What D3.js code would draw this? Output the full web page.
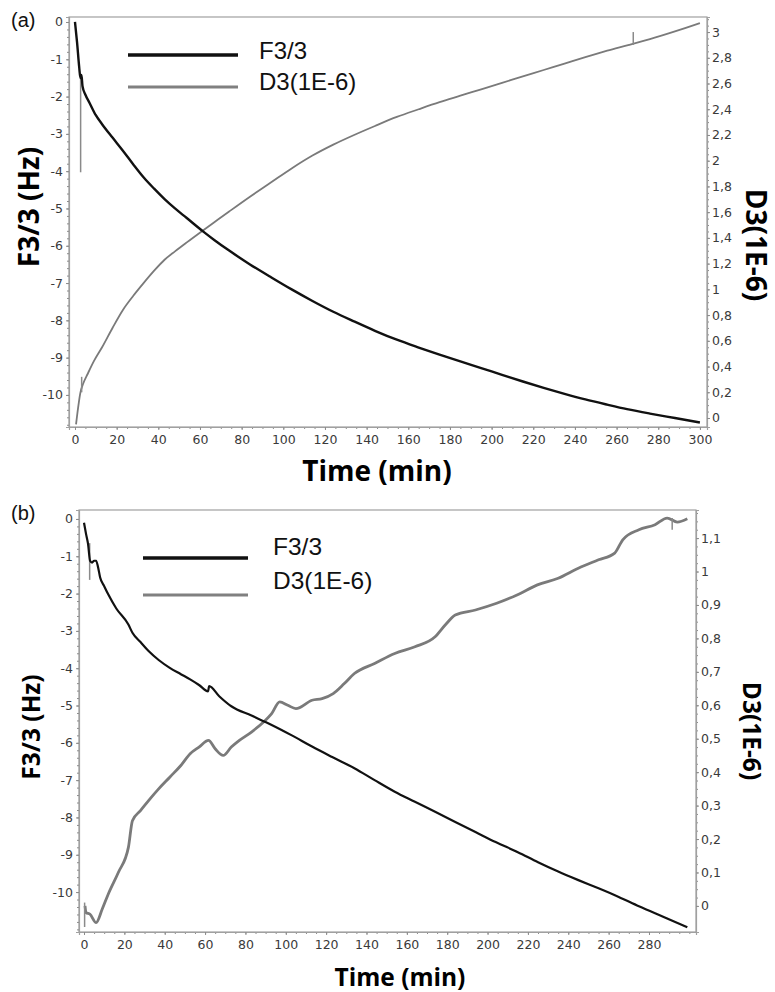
<!DOCTYPE html>
<html lang="en">
<head>
<meta charset="utf-8">
<script src="https://cdnjs.cloudflare.com/ajax/libs/d3/7.8.5/d3.min.js"></script>
<style>
  body { margin: 0; background: #fff; }
  svg { display: block; }
</style>
</head>
<body>
<script>
// ---- data: [time (min), value] ----
var f3A = [[0,0],[1,-0.55],[2,-1.2],[2.6,-1.5],[3.1,-1.42],[3.6,-1.72],[5,-1.95],[7,-2.17],[10,-2.5],[13,-2.74],[18,-3.1],[23,-3.45],[28,-3.82],[33,-4.17],[38,-4.47],[43,-4.75],[48,-5.0],[53.5,-5.25],[61.6,-5.62],[67,-5.85],[74,-6.13],[84,-6.5],[94,-6.84],[104,-7.17],[114,-7.48],[124,-7.77],[134,-8.03],[144,-8.28],[154.5,-8.52],[165,-8.73],[175,-8.92],[185,-9.1],[195,-9.28],[205,-9.46],[215,-9.64],[225,-9.81],[235,-9.97],[245,-10.12],[255.5,-10.26],[265,-10.38],[276,-10.5],[288,-10.62],[300,-10.74]];
var d3A = [[0.5,-0.05],[1.5,0.08],[2.5,0.19],[4,0.27],[6,0.34],[9,0.44],[13,0.55],[18,0.7],[23,0.84],[28,0.95],[33,1.05],[38,1.145],[43,1.23],[48,1.295],[53.5,1.363],[61.6,1.46],[68,1.535],[74,1.605],[84,1.72],[94,1.83],[104,1.94],[114,2.04],[124,2.125],[134,2.2],[144,2.27],[154.5,2.34],[165,2.4],[175,2.455],[185,2.505],[195,2.555],[205,2.605],[215,2.655],[225,2.705],[235,2.755],[245,2.805],[255.5,2.855],[266,2.9],[276,2.945],[288,3.005],[300,3.07]];
var d3SpikesA = [[[2.7,2.64],[2.7,1.91]], [[3.2,0.2],[3.2,0.32]], [[268,2.9],[268,3.0]]];

var f3B = [[0,-0.1],[1,-0.4],[2,-0.67],[3,-1.12],[4,-1.17],[5,-1.12],[6,-1.12],[7,-1.3],[8,-1.57],[10,-1.8],[12,-2.02],[16,-2.4],[22,-2.83],[24,-3.05],[28,-3.3],[32,-3.54],[37,-3.78],[42.5,-3.99],[48,-4.16],[52.6,-4.3],[57,-4.45],[61.5,-4.62],[62,-4.48],[67,-4.75],[73,-5.02],[83,-5.27],[93,-5.52],[103,-5.8],[113,-6.1],[123,-6.38],[134,-6.68],[144,-7.0],[154,-7.31],[164,-7.58],[174,-7.85],[184,-8.12],[194,-8.39],[204,-8.66],[215,-8.93],[225,-9.2],[235,-9.45],[245,-9.68],[255,-9.9],[265,-10.13],[275,-10.38],[287,-10.66],[299,-10.94]];
var d3B = [[0.5,0.0],[1,-0.02],[3,-0.025],[6,-0.05],[9,-0.01],[12,0.035],[17,0.1],[22,0.175],[24,0.255],[28,0.285],[32,0.315],[37,0.35],[42.5,0.385],[48,0.42],[52.6,0.455],[57,0.475],[61.7,0.495],[65,0.47],[69,0.45],[73,0.475],[77,0.495],[83,0.52],[89,0.55],[93,0.575],[97,0.61],[101,0.6],[105,0.59],[113,0.615],[118,0.62],[123.5,0.635],[129,0.665],[134,0.695],[144,0.725],[154,0.755],[164,0.775],[174,0.805],[179,0.84],[184,0.87],[194,0.885],[204.5,0.905],[214.6,0.93],[224.7,0.96],[235,0.98],[245,1.01],[255,1.035],[263,1.055],[267,1.095],[275,1.125],[283,1.14],[289,1.16],[294,1.148],[299,1.158]];
var d3SpikesB = [[[2.8,1.085],[2.8,0.975]], [[0.3,0.01],[0.3,-0.063]], [[291.5,1.16],[291.5,1.125]]];

var timeTicksA = [0,20,40,60,80,100,120,140,160,180,200,220,240,260,280,300];
var timeTicksB = [0,20,40,60,80,100,120,140,160,180,200,220,240,260,280];
var f3Ticks = [0,-1,-2,-3,-4,-5,-6,-7,-8,-9,-10];
var d3TicksA = [0,0.2,0.4,0.6,0.8,1,1.2,1.4,1.6,1.8,2,2.2,2.4,2.6,2.8,3];
var d3TicksB = [0,0.1,0.2,0.3,0.4,0.5,0.6,0.7,0.8,0.9,1,1.1];
var seriesNames = ["F3/3", "D3(1E-6)"];
var xTitle = "Time (min)", yTitle = "F3/3 (Hz)", y2Title = "D3(1E-6)";

var W = 775, H = 992;
var tickFont = "DejaVu Sans, Verdana, sans-serif";
var titleFont = "Open Sans, Liberation Sans, Arial, sans-serif";
var legendFont = "Liberation Sans, Arial, sans-serif";
var axisGray = "#8c8c8c";

var svg = d3.select("body").append("svg").attr("width", W).attr("height", H);
svg.append("rect").attr("width", W).attr("height", H).attr("fill", "#fff");

function commaFmt(v) { return String(+v.toFixed(2)).replace(".", ","); }

function drawPanel(cfg) {
        var g = svg.append("g");
        var x = d3.scaleLinear().domain(cfg.xDom).range([cfg.l, cfg.r]);
        var yL = d3.scaleLinear().domain(cfg.yLDom).range([cfg.b, cfg.t]);
        var yR = d3.scaleLinear().domain(cfg.yRDom).range([cfg.b, cfg.t]);

        // frame
        g.append("rect").attr("x", cfg.l).attr("y", cfg.t)
                .attr("width", cfg.r - cfg.l).attr("height", cfg.b - cfg.t)
                .attr("fill", "#fff").attr("stroke", "#a0a0a0").attr("stroke-width", 1.2);

        // minor ticks
        var minorX = d3.range(0, cfg.xDom[1], 5);
        g.append("g").attr("transform", `translate(0,${cfg.b})`)
                .call(d3.axisBottom(x).tickValues(minorX).tickSize(2).tickFormat(""))
                .call(s => s.select(".domain").remove())
                .selectAll("line").attr("stroke", axisGray);
        g.append("g").attr("transform", `translate(${cfg.l},0)`)
                .call(d3.axisLeft(yL).tickValues(d3.range(0, cfg.yLDom[0], -0.2)).tickSize(2).tickFormat(""))
                .call(s => s.select(".domain").remove())
                .selectAll("line").attr("stroke", axisGray);
        g.append("g").attr("transform", `translate(${cfg.r},0)`)
                .call(d3.axisRight(yR).tickValues(d3.range(0, cfg.yRDom[1], cfg.rMinor)).tickSize(2).tickFormat(""))
                .call(s => s.select(".domain").remove())
                .selectAll("line").attr("stroke", axisGray);

        // major axes
        var ax = g.append("g").attr("transform", `translate(0,${cfg.b})`)
                .call(d3.axisBottom(x).tickValues(cfg.xTicks).tickSize(3).tickPadding(5));
        var al = g.append("g").attr("transform", `translate(${cfg.l},0)`)
                .call(d3.axisLeft(yL).tickValues(f3Ticks).tickSize(3).tickPadding(3).tickFormat(d => String(d)));
        var ar = g.append("g").attr("transform", `translate(${cfg.r},0)`)
                .call(d3.axisRight(yR).tickValues(cfg.rTicks).tickSize(3).tickPadding(2).tickFormat(commaFmt));
        [ax, al, ar].forEach(a => {
                a.select(".domain").attr("stroke", "#a0a0a0").attr("stroke-width", 1.2);
                a.selectAll("line").attr("stroke", axisGray);
                a.selectAll("text").attr("font-family", tickFont).attr("font-size", 12.5).attr("fill", "#3a3a3a");
        });

        // lines
        var lineL = d3.line().x(d => x(d[0])).y(d => yL(d[1])).curve(d3.curveMonotoneX);
        var lineR = d3.line().x(d => x(d[0])).y(d => yR(d[1])).curve(d3.curveMonotoneX);
        var straightR = d3.line().x(d => x(d[0])).y(d => yR(d[1]));

        g.append("path").datum(cfg.d3).attr("d", lineR).attr("fill", "none")
                .attr("stroke", "#7a7a7a").attr("stroke-width", cfg.dWidth).attr("stroke-linejoin", "round");
        g.selectAll(".spike").data(cfg.spikes).join("path").attr("class", "spike")
                .attr("d", straightR).attr("fill", "none").attr("stroke", "#8a8a8a").attr("stroke-width", 1.5);
        g.append("path").datum(cfg.f3).attr("d", lineL).attr("fill", "none")
                .attr("stroke", "#111").attr("stroke-width", cfg.fWidth).attr("stroke-linejoin", "round");

        // legend
        var lg = g.append("g");
        lg.append("line").attr("x1", cfg.leg.x1).attr("x2", cfg.leg.x2).attr("y1", cfg.leg.y1).attr("y2", cfg.leg.y1)
                .attr("stroke", "#111").attr("stroke-width", 3.5);
        lg.append("line").attr("x1", cfg.leg.x1).attr("x2", cfg.leg.x2).attr("y1", cfg.leg.y2).attr("y2", cfg.leg.y2)
                .attr("stroke", "#808080").attr("stroke-width", 3);
        lg.selectAll("text").data(seriesNames).join("text")
                .attr("x", cfg.leg.tx).attr("y", (d, i) => i === 0 ? cfg.leg.ty1 : cfg.leg.ty2)
                .attr("dy", "0.35em").attr("font-family", legendFont).attr("font-size", cfg.leg.fs)
                .attr("fill", "#111").text(d => d);

        // titles
        g.append("text").attr("x", cfg.xTitle[0]).attr("y", cfg.xTitle[1]).attr("text-anchor", "middle")
                .attr("font-family", titleFont).attr("font-weight", 700).attr("font-size", cfg.titleFs)
                .attr("fill", "#000").text(xTitle);
        g.append("text").attr("transform", `translate(${cfg.yTitle[0]},${cfg.yTitle[1]}) rotate(-90)`)
                .attr("text-anchor", "middle").attr("dy", "0.35em")
                .attr("font-family", titleFont).attr("font-weight", 700).attr("font-size", cfg.titleFs)
                .attr("fill", "#000").text(yTitle);
        g.append("text").attr("transform", `translate(${cfg.y2Title[0]},${cfg.y2Title[1]}) rotate(90)`)
                .attr("text-anchor", "middle").attr("dy", "0.35em")
                .attr("font-family", titleFont).attr("font-weight", 700).attr("font-size", cfg.titleFs)
                .attr("fill", "#000").text(y2Title);
        g.append("text").attr("x", 11).attr("y", cfg.t + 10).attr("font-family", legendFont)
                .attr("font-size", 20).attr("fill", "#111").text(cfg.label);
}

drawPanel({
        label: "(a)", l: 69, r: 707, t: 17, b: 427,
        xDom: [-2.88, 303.4], yLDom: [-10.86, 0.134], yRDom: [-0.07, 3.117],
        xTicks: timeTicksA, rTicks: d3TicksA, rMinor: 0.05,
        f3: f3A, d3: d3A, spikes: d3SpikesA, fWidth: 2.4, dWidth: 1.8,
        leg: {x1: 128, x2: 238, y1: 55, y2: 87, tx: 259, ty1: 51, ty2: 82, fs: 24},
        xTitle: [377, 481], yTitle: [29, 207], y2Title: [756, 245], titleFs: 28
});

drawPanel({
        label: "(b)", l: 79, r: 696, t: 510, b: 932,
        xDom: [-2.48, 303.3], yLDom: [-11.07, 0.24], yRDom: [-0.078, 1.184],
        xTicks: timeTicksB, rTicks: d3TicksB, rMinor: 0.025,
        f3: f3B, d3: d3B, spikes: d3SpikesB, fWidth: 2.2, dWidth: 2.8,
        leg: {x1: 143, x2: 248, y1: 558, y2: 595, tx: 273, ty1: 546, ty2: 580, fs: 24.5},
        xTitle: [400, 986], yTitle: [31, 727], y2Title: [752, 731], titleFs: 24.5
});
</script>
</body>
</html>
